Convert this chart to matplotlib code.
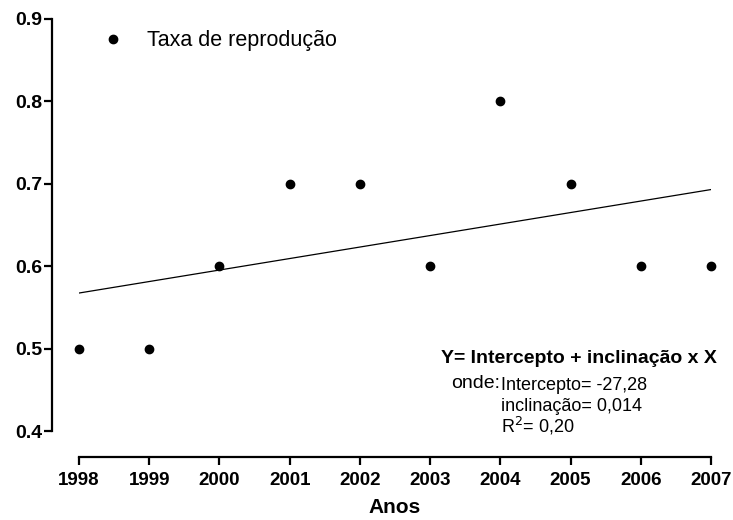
import numpy as np
import matplotlib
matplotlib.use("Agg")
import matplotlib.pyplot as plt

plt.rcParams['font.family'] = ['Liberation Sans', 'DejaVu Sans']

anos = [1998, 1999, 2000, 2001, 2002, 2003, 2004, 2005, 2006, 2007]
taxa = [0.5, 0.5, 0.6, 0.7, 0.7, 0.6, 0.8, 0.7, 0.6, 0.6]
yticks = [0.4, 0.5, 0.6, 0.7, 0.8, 0.9]
legend_label = "Taxa de reprodução"
xlabel = "Anos"

fig = plt.figure(figsize=(7.33, 5.2), dpi=100)
ax = fig.add_axes([79/733, 1-431/520, 632/733, (431-18.6)/520])

ax.plot(anos, taxa, 'o', color='black', markersize=6, label=legend_label, clip_on=False, zorder=3)
slope, intercept = np.polyfit(anos, taxa, 1)
xl = np.array([anos[0], anos[-1]])
ax.plot(xl, intercept + slope * xl, color='black', lw=0.9)

ax.set_xlim(1998, 2007)
ax.set_ylim(0.4, 0.9)
ax.set_xticks(anos)
ax.set_xticklabels([str(a) for a in anos])
ax.set_yticks(yticks)
ax.set_yticklabels([f"{v:.1f}" for v in yticks])

for s in ['top', 'right']:
    ax.spines[s].set_visible(False)
ax.spines['left'].set_position(('outward', 27*72/100))
ax.spines['bottom'].set_position(('outward', 26*72/100))
ax.spines['left'].set_linewidth(1.6)
ax.spines['bottom'].set_linewidth(1.6)
ax.tick_params(axis='both', width=1.6, length=5.5, direction='out')
ax.tick_params(axis='y', pad=1.5, labelsize=14)
ax.tick_params(axis='x', pad=5, labelsize=13.5)
for lab in ax.get_xticklabels() + ax.get_yticklabels():
    lab.set_fontweight('bold')

ax.set_xlabel(xlabel, fontsize=15, fontweight='bold', labelpad=7)

ax.legend(loc='center left', bbox_to_anchor=(0.036, 0.9457), frameon=False,
          fontsize=15.5, borderpad=0, borderaxespad=0, handlelength=1.0,
          handletextpad=1.1, markerscale=1.0)

ax.text(2003.155, 0.4824, "Y= Intercepto + inclinação x X", fontsize=14,
        fontweight='bold', va='baseline', ha='left')
ax.text(2003.30, 0.4521, "onde:", fontsize=14, va='baseline', ha='left')
ax.text(2004.01, 0.4497, "Intercepto= -27,28", fontsize=13, va='baseline', ha='left')
ax.text(2004.01, 0.4242, "inclinação= 0,014", fontsize=13, va='baseline', ha='left')
ax.text(2004.01, 0.3976, "R$^2$= 0,20", fontsize=13, va='baseline', ha='left')

fig.savefig("out.png", dpi=100)
